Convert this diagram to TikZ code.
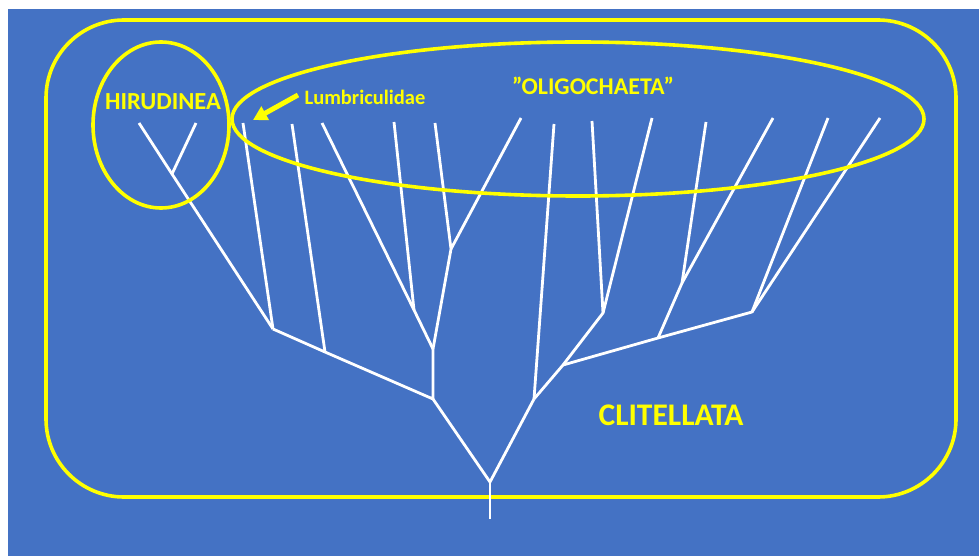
\documentclass[tikz,border=0pt]{standalone}
\usepackage{fontspec}
\setmainfont{Carlito}
\usetikzlibrary{arrows.meta}
\definecolor{bgblue}{HTML}{4472C4}
\definecolor{ylw}{HTML}{FFFF00}
\tikzset{
  branch/.style={draw=white, line width=2.8pt, line join=round},
  yline/.style={draw=ylw, line width=3.6pt},
  lbl/.style={text=ylw, font=\bfseries, inner sep=0pt},
}
\begin{document}
\begin{tikzpicture}[x=1pt,y=-1pt]
\useasboundingbox (0,0) rectangle (979,556);
\fill[bgblue] (8,9) rectangle (979,556);
\draw[yline, rounded corners=78pt] (46,20) rectangle (956,497);
% tree coordinates
\coordinate (r0) at (490,519);
\coordinate (root) at (490,482);
\coordinate (L1) at (433,399);
\coordinate (R1) at (534,399);
\coordinate (C) at (433,349);
\coordinate (A) at (325,352);
\coordinate (B) at (273,329);
\coordinate (a1) at (292,124);
\coordinate (hj) at (172,174);
\coordinate (h1) at (139,123);
\coordinate (h2) at (196,123);
\coordinate (lum) at (243,123);
\coordinate (D) at (414,310);
\coordinate (d1) at (322,123);
\coordinate (d2) at (394,122);
\coordinate (E) at (451,249);
\coordinate (e1) at (435,123);
\coordinate (e2) at (521,118);
\coordinate (r1) at (554,124);
\coordinate (F) at (563,365);
\coordinate (G) at (603,313);
\coordinate (g1) at (592,121);
\coordinate (g2) at (652,118);
\coordinate (H) at (658,338);
\coordinate (I) at (752,312);
\coordinate (J) at (682,283);
\coordinate (j1) at (706,122);
\coordinate (j2) at (773,118);
\coordinate (i1) at (828,118);
\coordinate (i2) at (880,118);
% branches
\draw[branch] (r0) -- (root);
\draw[branch] (L1) -- (root) -- (R1);
\draw[branch] (C) -- (L1) -- (A) -- (B);
\draw[branch] (A) -- (a1);
\draw[branch] (B) -- (hj) -- (h1);
\draw[branch] (hj) -- (h2);
\draw[branch] (B) -- (lum);
\draw[branch] (C) -- (D) -- (d1);
\draw[branch] (D) -- (d2);
\draw[branch] (C) -- (E) -- (e1);
\draw[branch] (E) -- (e2);
\draw[branch] (R1) -- (r1);
\draw[branch] (R1) -- (F) -- (G) -- (g1);
\draw[branch] (G) -- (g2);
\draw[branch] (F) -- (H) -- (I) -- (i1);
\draw[branch] (I) -- (i2);
\draw[branch] (H) -- (J) -- (j1);
\draw[branch] (J) -- (j2);
% ellipses
\draw[yline] (161,125) ellipse [x radius=68, y radius=83];
\draw[yline] (578,119) ellipse [x radius=346, y radius=77];
% labels
\node[lbl, font=\bfseries\fontsize{24.5}{25}\selectfont] (hir) at (163,102) {HIRUDINEA};
\node[lbl, font=\bfseries\fontsize{20.5}{21}\selectfont] (lumb) at (365,97) {Lumbriculidae};
\node[lbl, font=\bfseries\fontsize{24}{24}\selectfont] (oli) at (593,86) {”OLIGOCHAETA”};
\node[lbl, font=\bfseries\fontsize{31.5}{32}\selectfont] (cli) at (671,415) {CLITELLATA};
\coordinate (arT) at (253,120);
\draw[draw=ylw, line width=5pt, -{Triangle[length=14pt,width=15pt]}] (298,95) -- (arT);
\end{tikzpicture}
\end{document}
